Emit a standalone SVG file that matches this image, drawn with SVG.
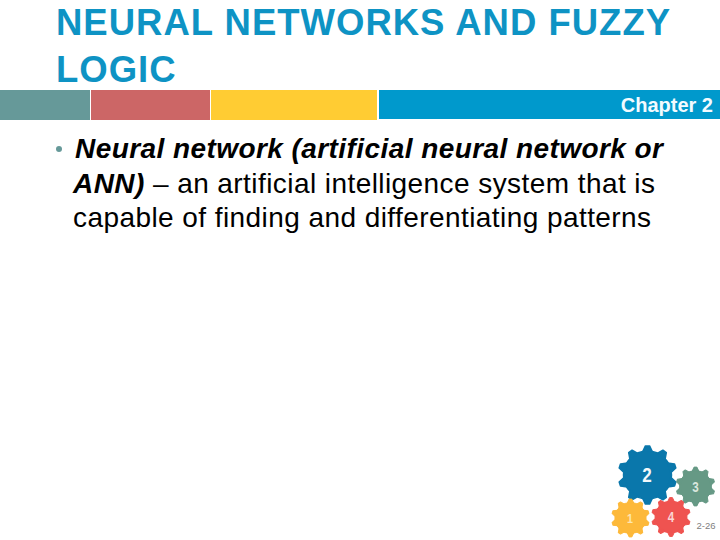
<svg xmlns="http://www.w3.org/2000/svg" xmlns:xlink="http://www.w3.org/1999/xlink" width="720" height="540" viewBox="0 0 720 540">
<style>
text{font-family:"Liberation Sans",Arial,sans-serif}
.t{font-size:36.500px;font-weight:700;fill:#0e93c4;letter-spacing:1px}
.b{font-size:28px;fill:#000;letter-spacing:.43px}
.i{font-weight:700;font-style:italic}
.g{font-weight:700;text-anchor:middle}
.gear{stroke-width:5;stroke-linejoin:round}
</style>
<defs>
<polygon id="tooth" points="76,-17 97,-7 97,7 76,17"/>
<g id="cog">
<circle r="80"/>
<use xlink:href="#tooth" href="#tooth" transform="rotate(-90)"/>
<use xlink:href="#tooth" href="#tooth" transform="rotate(-54)"/>
<use xlink:href="#tooth" href="#tooth" transform="rotate(-18)"/>
<use xlink:href="#tooth" href="#tooth" transform="rotate(18)"/>
<use xlink:href="#tooth" href="#tooth" transform="rotate(54)"/>
<use xlink:href="#tooth" href="#tooth" transform="rotate(90)"/>
<use xlink:href="#tooth" href="#tooth" transform="rotate(126)"/>
<use xlink:href="#tooth" href="#tooth" transform="rotate(162)"/>
<use xlink:href="#tooth" href="#tooth" transform="rotate(198)"/>
<use xlink:href="#tooth" href="#tooth" transform="rotate(234)"/>
</g>
</defs>
<rect width="720" height="540" fill="#fff"/>
<g id="title">
<text class="t" x="56" y="35">NEURAL NETWORKS AND FUZZY</text>
<text class="t" x="56" y="82">LOGIC</text>
</g>
<g id="banner">
<rect x="0" y="90" width="90" height="30" fill="#669999"/>
<rect x="91" y="90" width="119" height="30" fill="#cc6666"/>
<rect x="211" y="90" width="166" height="30" fill="#ffcc33"/>
<rect x="379" y="90" width="341" height="29" fill="#0099cc"/>
<text x="713" y="112" text-anchor="end" font-weight="700" fill="#f2fbff" style="font-size:20px">Chapter 2</text>
</g>
<g id="body">
<circle cx="59" cy="149" r="3" fill="#669999"/>
<text class="b i" x="75" y="158">Neural network (artificial neural network or</text>
<text class="b" x="73" y="192.500"><tspan class="i">ANN)</tspan> – an artificial intelligence system that is</text>
<text class="b" x="73" y="227">capable of finding and differentiating patterns</text>
</g>
<g id="gear-2">
<use class="gear" xlink:href="#cog" href="#cog" transform="translate(647.500 475) scale(.3)" fill="#0a77ab" stroke="#0a77ab"/>
<text class="g" x="647" y="481.500" fill="#f4f8fa" textLength="9.500" lengthAdjust="spacingAndGlyphs" style="font-size:20px">2</text>
</g>
<g id="gear-3">
<use class="gear" xlink:href="#cog" href="#cog" transform="translate(695.500 486.500) scale(.2)" fill="#669985" stroke="#669985"/>
<text class="g" x="695.500" y="491.500" fill="#d9e6dd" textLength="6.500" lengthAdjust="spacingAndGlyphs" style="font-size:14px">3</text>
</g>
<g id="gear-1">
<use class="gear" xlink:href="#cog" href="#cog" transform="translate(630.500 518) scale(.195)" fill="#fdb93a" stroke="#fdb93a"/>
<text class="g" x="630" y="522.500" fill="#fde6b0" textLength="6" lengthAdjust="spacingAndGlyphs" style="font-size:13px">1</text>
</g>
<g id="gear-4">
<use class="gear" xlink:href="#cog" href="#cog" transform="translate(671 517) scale(.2)" fill="#ef5350" stroke="#ef5350"/>
<text class="g" x="671" y="522" fill="#fbd5d4" textLength="6.500" lengthAdjust="spacingAndGlyphs" style="font-size:14px">4</text>
</g>
<text id="page" x="696.500" y="528.500" style="font-size:9.500px" fill="#808080">2-26</text>
</svg>
